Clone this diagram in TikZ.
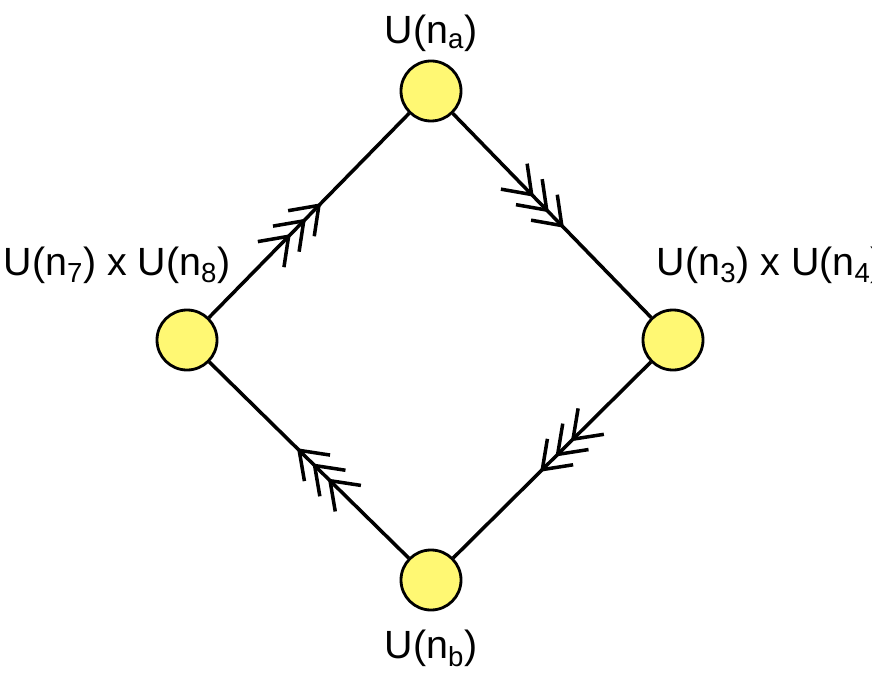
\documentclass[tikz,border=0pt]{standalone}
\usepackage{fontspec}
\setmainfont{Liberation Sans}
\usetikzlibrary{arrows.meta,decorations.markings}
\tikzset{
  vert/.style={circle,draw=black,line width=2pt,fill=yellow!55,minimum size=1.5cm,inner sep=0pt},
  lab/.style={font=\fontsize{28}{32}\selectfont},
  edge/.style={line width=2.5pt,postaction={decorate},decoration={markings,
    mark=at position 0.56 with {\arrow[line width=2.5pt]{Straight Barb[length=18pt,width=26pt,sep=-6pt]Straight Barb[length=18pt,width=26pt,sep=-6pt]Straight Barb[length=18pt,width=26pt]}}}}
}
\begin{document}
\begin{tikzpicture}[x=0.025cm,y=-0.025cm]
    \useasboundingbox (0,0) rectangle (872,695);
    \clip (0,0) rectangle (872,695);

    \node[vert] (na) at (431,91) {};
    \node[vert] (left) at (187,340) {};
    \node[vert] (right) at (673,340) {};
    \node[vert] (nb) at (431,580) {};

    \node[lab] (la) at (431,33) {U(n$_\mathrm{a}$)};
    \node[lab] (ll) at (117,265) {U(n$_\mathrm{7}$) x U(n$_\mathrm{8}$)};
    \node[lab,anchor=west] (lr) at (652,265) {U(n$_\mathrm{3}$) x U(n$_\mathrm{4}$)};
    \node[lab] (lb) at (431,648) {U(n$_\mathrm{b}$)};

    \draw[edge] (left) -- (na);
    \draw[edge] (na) -- (right);
    \draw[edge] (right) -- (nb);
    \draw[edge] (nb) -- (left);
\end{tikzpicture}
\end{document}
